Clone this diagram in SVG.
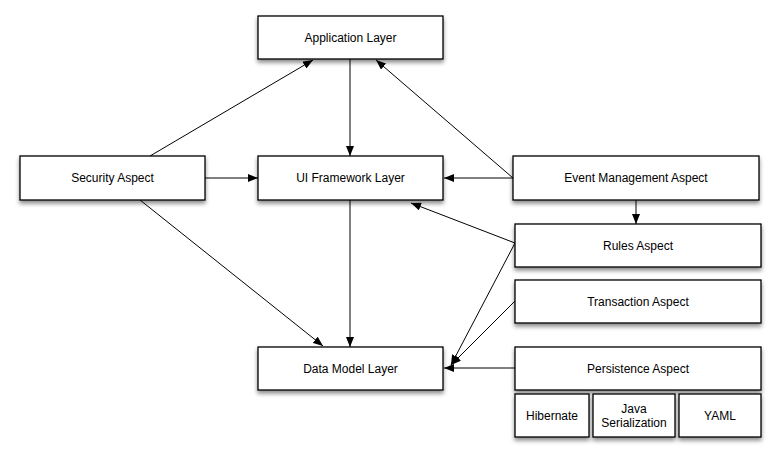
<svg xmlns="http://www.w3.org/2000/svg" width="781" height="461" viewBox="0 0 781 461">
<style>
.box{fill:#fff;stroke:#000;stroke-width:1.3;filter:url(#sh)}
.lbl{font-family:"Liberation Sans",Arial,sans-serif;font-size:12px;fill:#000;text-anchor:middle}
.cn{stroke:#000;stroke-width:1;fill:none;marker-end:url(#ah)}
</style>
<defs>
<filter id="sh" x="-10%" y="-20%" width="120%" height="150%">
<feDropShadow dx="0" dy="3" stdDeviation="2" flood-color="#000" flood-opacity="0.45"/>
</filter>
<marker id="ah" viewBox="0 0 10 8" refX="10" refY="4" markerWidth="10" markerHeight="8" markerUnits="userSpaceOnUse" orient="auto">
<path d="M0,0 L10,4 L0,8 Z" fill="#000"/>
</marker>
</defs>
<rect width="781" height="461" fill="#fff"/>
<g id="connectors">
<line class="cn" x1="350" y1="59" x2="350" y2="156"/>
<line class="cn" x1="150" y1="156" x2="313" y2="60"/>
<line class="cn" x1="513" y1="178" x2="376" y2="60"/>
<line class="cn" x1="513" y1="178" x2="444" y2="178"/>
<line class="cn" x1="205" y1="178" x2="258" y2="178"/>
<line class="cn" x1="140" y1="200" x2="323" y2="346"/>
<line class="cn" x1="350" y1="200" x2="350" y2="347"/>
<line class="cn" x1="636" y1="200" x2="636" y2="224"/>
<line class="cn" x1="515" y1="243" x2="411" y2="203"/>
<line class="cn" x1="515" y1="243" x2="451" y2="365"/>
<line class="cn" x1="515" y1="301" x2="451" y2="365"/>
<line class="cn" x1="515" y1="368" x2="444" y2="368"/>
</g>
<g id="app"><rect class="box" x="258" y="16" width="185" height="43"/><text class="lbl" x="350.5" y="42">Application Layer</text></g>
<g id="ui"><rect class="box" x="258" y="156" width="185" height="44"/><text class="lbl" x="350.5" y="182">UI Framework Layer</text></g>
<g id="security"><rect class="box" x="20" y="156" width="185" height="44"/><text class="lbl" x="112.5" y="182">Security Aspect</text></g>
<g id="data"><rect class="box" x="258" y="347" width="185" height="43"/><text class="lbl" x="350.5" y="373">Data Model Layer</text></g>
<g id="event"><rect class="box" x="513" y="156" width="246" height="44"/><text class="lbl" x="636" y="182">Event Management Aspect</text></g>
<g id="rules"><rect class="box" x="515" y="224" width="246" height="43"/><text class="lbl" x="638" y="250">Rules Aspect</text></g>
<g id="transaction"><rect class="box" x="515" y="280" width="246" height="43"/><text class="lbl" x="638" y="306">Transaction Aspect</text></g>
<g id="persistence"><rect class="box" x="515" y="347" width="246" height="43"/><text class="lbl" x="638" y="373">Persistence Aspect</text></g>
<g id="hibernate"><rect class="box" x="515" y="394" width="74" height="43"/><text class="lbl" x="552" y="420">Hibernate</text></g>
<g id="javaser"><rect class="box" x="593" y="394" width="82" height="43"/><text class="lbl" x="634" y="413">Java</text><text class="lbl" x="634" y="427">Serialization</text></g>
<g id="yaml"><rect class="box" x="679" y="394" width="82" height="43"/><text class="lbl" x="720" y="420">YAML</text></g>
</svg>
